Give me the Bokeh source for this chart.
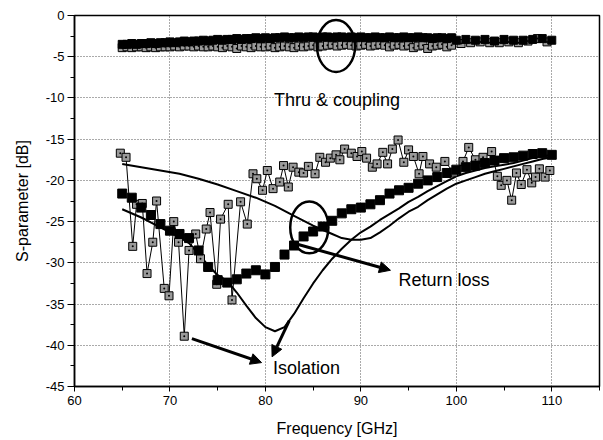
from bokeh.plotting import figure
from bokeh.models import FixedTicker, Arrow, NormalHead, Label, Range1d
from bokeh.core.properties import value
from bokeh.embed import file_html
from bokeh.resources import INLINE

FONT = "Liberation Sans"

# ---------------- data ----------------
x_ticks = [60, 70, 80, 90, 100, 110]
x_minor = [65, 75, 85, 95, 105, 115]
y_ticks = [0, -5, -10, -15, -20, -25, -30, -35, -40, -45]
y_tick_labels = ["0", "-5", "-10", "-15", "-20", "-25", "-30", "-35", "-40", "-45"]
y_minor = [-2.5, -7.5, -12.5, -17.5, -22.5, -27.5, -32.5, -37.5, -42.5]

# measured return loss (black squares), 1 GHz grid
rl_freq = list(range(65, 111))
rl_meas = [-21.6, -22.1, -23.3, -24.2, -25.3, -26.1, -26.5, -27.0, -28.5, -30.5,
           -32.1, -32.4, -32.0, -31.3, -30.9, -31.4, -30.5, -29.0, -27.9, -26.8,
           -26.2, -25.6, -24.9, -24.0, -23.5, -23.3, -22.9, -22.4, -21.6, -21.2,
           -20.9, -20.4, -20.0, -19.6, -19.1, -18.7, -18.4, -18.2, -17.9, -17.6,
           -17.3, -17.2, -17.0, -16.8, -16.7, -16.9]

# simulated return loss (smooth line)
rl_sim_freq = [65, 67, 69, 71, 73, 75, 77, 79, 81, 83, 85, 87, 88, 89, 90, 91, 92, 93,
               94, 95, 96, 97, 98, 99, 100, 101, 102, 103, 104, 105, 106, 107, 108, 109, 110]
rl_sim = [-18.0, -18.4, -18.8, -19.2, -19.8, -20.5, -21.3, -22.1, -23.1, -24.3, -25.5,
          -26.5, -27.0, -27.2, -27.2, -27.0, -26.3, -25.5, -24.6, -23.8, -23.2, -22.4,
          -21.7, -21.0, -20.4, -20.0, -19.6, -19.2, -18.9, -18.6, -18.3, -18.0, -17.7,
          -17.4, -17.2]

# simulated isolation (smooth line)
iso_sim_freq = [65, 67, 69, 71, 72, 73, 74, 75, 76, 77, 78, 79, 80, 81, 82, 83, 84, 85,
                86, 87, 88, 89, 90, 91, 92, 93, 94, 95, 96, 97, 98, 99, 100, 101, 102,
                103, 104, 105, 106, 107, 108, 109, 110]
iso_sim = [-23.5, -24.5, -25.7, -26.9, -27.6, -28.9, -30.3, -31.5, -32.2, -33.6, -35.2,
           -36.7, -37.8, -38.3, -37.8, -36.2, -34.3, -32.5, -30.9, -29.5, -28.3, -27.2,
           -26.3, -25.6, -24.8, -24.1, -23.4, -22.6, -22.0, -21.3, -20.7, -20.1, -19.5,
           -19.1, -18.8, -18.5, -18.3, -18.1, -17.9, -17.6, -17.3, -17.1, -16.9]

# measured isolation (grey squares, thin line)
iso_freq = [64.8, 65.4, 66.1, 66.5, 67.1, 67.6, 68.2, 68.6, 69.4, 69.9, 70.4, 70.9,
            71.5, 72.0, 72.7, 73.2, 73.8, 74.2, 74.9, 75.3, 76.1, 76.5, 77.4, 78.1,
            78.7, 79.1, 79.7, 80.2, 80.8, 81.5, 81.9, 82.4, 82.9, 83.5, 84.0, 84.5,
            85.2, 85.7, 86.3, 86.8, 87.4, 87.8, 88.3, 89.0, 89.6, 90.1, 90.6, 91.2,
            91.7, 92.3, 92.8, 93.3, 93.9, 94.5, 95.0, 95.5, 96.1, 96.5, 97.2, 97.9,
            98.8, 99.7, 100.7, 101.3, 102.0, 102.8, 103.7, 104.3, 104.7, 105.3, 105.8,
            106.3, 106.8, 107.4, 107.9, 108.3, 108.7, 109.3, 109.8]
iso_meas = [-16.7, -17.2, -28.0, -22.9, -22.8, -31.3, -27.5, -22.5, -33.1, -34.0, -25.0,
            -27.5, -38.9, -28.5, -26.5, -29.5, -25.9, -23.9, -32.6, -24.7, -22.9, -34.5,
            -22.6, -25.3, -19.2, -19.8, -21.2, -18.8, -21.0, -20.2, -18.2, -20.8, -18.4,
            -19.0, -19.1, -18.3, -19.2, -17.2, -17.8, -17.3, -16.9, -17.5, -16.2, -16.7,
            -17.1, -16.5, -17.3, -18.4, -18.0, -16.6, -18.0, -16.2, -15.1, -17.8, -16.3,
            -17.1, -19.2, -17.1, -18.0, -18.4, -17.7, -19.0, -17.7, -16.0, -17.5, -17.2,
            -16.5, -19.5, -20.6, -20.0, -22.4, -19.1, -20.5, -18.7, -20.3, -19.6, -18.6,
            -19.6, -18.8]

# thru (black squares) and coupling (grey squares)
thru_freq = [65, 65.5, 66, 66.5, 67, 67.5, 68, 68.5, 69, 69.5, 70, 70.5, 71, 71.5, 72,
             72.5, 73, 73.5, 74, 74.5, 75, 75.5, 76, 76.5, 77, 77.5, 78, 78.5, 79, 79.5,
             80, 80.5, 81, 81.5, 82, 82.5, 83, 83.5, 84, 84.5, 85, 85.5, 86, 86.5, 87,
             87.5, 88, 88.5, 89, 89.5, 90, 90.5, 91, 91.5, 92, 92.5, 93, 93.5, 94, 94.5,
             95, 95.5, 96, 96.5, 97, 97.5, 98, 98.5, 99, 99.5,
             100, 101, 102, 103, 104, 105, 106, 107, 108, 109, 110]
thru = [-3.5, -3.5, -3.4, -3.5, -3.4, -3.4, -3.3, -3.4, -3.3, -3.3,
        -3.2, -3.3, -3.2, -3.1, -3.2, -3.1, -3.1, -3.0, -3.1, -3.0,
        -2.9, -3.0, -2.9, -2.9, -2.8, -2.9, -2.8, -2.8, -2.7, -2.8,
        -2.7, -2.8, -2.7, -2.7, -2.6, -2.7, -2.7, -2.6, -2.7, -2.6,
        -2.6, -2.7, -2.6, -2.6, -2.7, -2.6, -2.6, -2.7, -2.6, -2.7,
        -2.6, -2.7, -2.7, -2.6, -2.7, -2.7, -2.6, -2.7, -2.7, -2.6,
        -2.7, -2.7, -2.6, -2.7, -2.7, -2.8, -2.7, -2.7, -2.8, -2.7,
        -3.0, -2.9, -3.0, -2.9, -3.1, -2.9, -3.0, -3.0, -2.9, -2.8, -3.0]
coup_freq = [65, 65.5, 66, 66.5, 67, 67.5, 68, 68.5, 69, 69.5, 70, 70.5, 71, 71.5, 72,
             72.5, 73, 73.5, 74, 74.5, 75, 75.5, 76, 76.5, 77, 77.5, 78, 78.5, 79, 79.5,
             80, 80.5, 81, 81.5, 82, 82.5, 83, 83.5, 84, 84.5, 85, 85.5, 86, 86.5, 87,
             87.5, 88, 88.5, 89, 89.5, 90, 90.5, 91, 91.5, 92, 92.5, 93, 93.5, 94, 94.5,
             95, 95.5, 96, 96.5, 97, 97.5, 98, 98.5, 99, 99.5,
             100.5, 101.5, 102.5, 103.5, 104.5, 105.5, 106.5, 107.5, 108.5, 109.5]
coupling = [-3.9, -3.8, -3.9, -3.8, -3.8, -3.9, -3.8, -3.9, -3.8, -3.8,
            -3.8, -3.7, -3.8, -3.7, -3.7, -3.8, -3.7, -3.8, -3.8, -3.7,
            -3.8, -3.9, -3.7, -3.8, -4.0, -3.7, -3.8, -3.9, -3.7, -3.8,
            -3.8, -3.7, -3.9, -3.8, -3.7, -3.8, -3.9, -3.7, -3.8, -3.7,
            -3.6, -3.8, -3.7, -3.6, -3.5, -3.7, -3.6, -3.5, -3.6, -3.7,
            -3.6, -3.5, -3.7, -3.6, -3.5, -3.6, -3.8, -3.6, -3.5, -3.7,
            -3.6, -3.9, -3.7, -3.6, -4.0, -3.7, -3.6, -3.5, -3.8, -3.6,
            -3.4, -3.3, -3.2, -3.3, -3.3, -3.2, -3.3, -3.1, -2.8, -3.2]

# annotations
ellipse_x = [87.4, 84.6]
ellipse_y = [-3.7, -25.7]
ellipse_w = [4.0, 4.0]
ellipse_h = [6.3, 6.3]
labels = ["Thru & coupling", "Return loss", "Isolation"]
label_x = [87.5, 98.7, 84.3]
label_y = [-10.2, -32.1, -42.8]
arrows = [(82.6, -27.5, 93.1, -30.9), (72.3, -39.2, 79.6, -42.1), (82.5, -37.0, 80.7, -41.4)]

# ---------------- figure ----------------
p = figure(width=603, height=440, output_backend="svg", toolbar_location=None,
           x_range=Range1d(60, 115), y_range=Range1d(-45, 0),
           min_border_left=74, min_border_right=4, min_border_top=15, min_border_bottom=54)
p.background_fill_color = "white"
p.border_fill_color = "white"
p.outline_line_color = "black"
p.outline_line_width = 1.5

p.xaxis.ticker = FixedTicker(ticks=x_ticks, minor_ticks=x_minor)
p.yaxis.ticker = FixedTicker(ticks=y_ticks, minor_ticks=y_minor)
p.yaxis.major_label_overrides = {t: s for t, s in zip(y_ticks, y_tick_labels)}
for ax in (p.xaxis[0], p.yaxis[0]):
    ax.axis_line_color = "black"
    ax.axis_line_width = 1.5
    ax.major_tick_line_color = "black"
    ax.minor_tick_line_color = "black"
    ax.major_tick_in = 0
    ax.minor_tick_in = 0
    ax.major_label_text_font = FONT
    ax.major_label_text_font_size = "13px"
    ax.major_label_text_color = "black"
    ax.axis_label_text_font = FONT
    ax.axis_label_text_font_size = "16px"
    ax.axis_label_text_font_style = "normal"
    ax.axis_label_text_color = "black"
p.xaxis.major_tick_out = 5
p.xaxis.minor_tick_out = 4
p.yaxis.major_tick_out = 7
p.yaxis.minor_tick_out = 4
p.xaxis.major_label_standoff = 4
p.yaxis.major_label_standoff = 3
p.xaxis.axis_label = "Frequency [GHz]"
p.yaxis.axis_label = "S-parameter [dB]"
p.xaxis.axis_label_standoff = 12
p.yaxis.axis_label_standoff = 12

for g in (p.xgrid[0], p.ygrid[0]):
    g.grid_line_color = "#555555"
    g.grid_line_dash = "1 2"
    g.grid_line_width = 1

# simulated curves
p.line(rl_sim_freq, rl_sim, line_color="black", line_width=2)
p.line(iso_sim_freq, iso_sim, line_color="black", line_width=2)

# measured isolation
p.line(iso_freq, iso_meas, line_color="black", line_width=1)
p.scatter(iso_freq, iso_meas, marker="square_dot", size=8, fill_color="#9a9a9a",
          line_color="black", line_width=1)

# measured return loss
p.scatter(rl_freq, rl_meas, marker="square", size=9, fill_color="black", line_color="black")

# thru & coupling
p.scatter(coup_freq, coupling, marker="square_dot", size=8, fill_color="#9a9a9a",
          line_color="black", line_width=1)
p.scatter(thru_freq, thru, marker="square", size=8, fill_color="black", line_color="black")

# annotations
p.ellipse(x=ellipse_x, y=ellipse_y, width=ellipse_w, height=ellipse_h,
          fill_color=None, line_color="black", line_width=2.5)
for xs, ys, xe, ye in arrows:
    p.add_layout(Arrow(end=NormalHead(size=11, fill_color="black", line_color="black"),
                       x_start=xs, y_start=ys, x_end=xe, y_end=ye,
                       line_color="black", line_width=3))
for t, lx, ly in zip(labels, label_x, label_y):
    p.add_layout(Label(x=lx, y=ly, text=t, text_font=FONT, text_font_size="18px",
                       text_align="center", text_baseline="middle", text_color="black"))

open("out.html", "w").write(file_html(p, INLINE))
